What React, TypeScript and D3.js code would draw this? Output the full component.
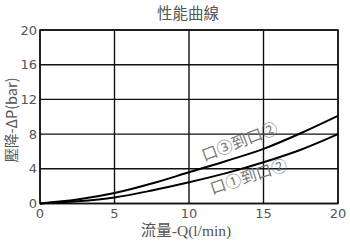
import React from "react";
import * as d3 from "d3";

const flow = [0, 2.5, 5, 7.5, 10, 12.5, 15, 17.5, 20];
const port3to2 = [0, 0.45, 1.2, 2.3, 3.6, 4.9, 6.3, 8.1, 10.1];
const port1to2 = [0, 0.25, 0.7, 1.5, 2.45, 3.5, 4.75, 6.2, 8.0];
const xTicks = [0, 5, 10, 15, 20];
const yTicks = [0, 4, 8, 12, 16, 20];
const title = "性能曲線";
const yTitle = "壓降-ΔP(bar)";
const xTitleA = "流量";
const xTitleB = "-Q(l/min)";
const label3 = "口③到口②";
const label1 = "口①到口②";

export default function App() {
  const W = 350, H = 246;
  const L = 40, R = 338, T = 30, B = 203.5;
  const x = d3.scaleLinear().domain([0, 20]).range([L, R]);
  const y = d3.scaleLinear().domain([0, 20]).range([B, T]);
  const line = d3
    .line<number>()
    .x((_, i) => x(flow[i]))
    .y((d) => y(d))
    .curve(d3.curveMonotoneX);
  const tickFont = "'DejaVu Sans', sans-serif";
  const cjk = "'Noto Sans CJK TC', sans-serif";
  return (
    <svg width={W} height={H} style={{ position: "absolute", left: 0, top: 0, background: "#fff" }}>
      <text x={188} y={19} textAnchor="middle" fontFamily={cjk} fontSize={15.5} fill="#555">
        {title}
      </text>
      {xTicks.map((t) => (
        <line key={"gx" + t} x1={x(t)} x2={x(t)} y1={T} y2={B} stroke="#111" strokeWidth={1.4} />
      ))}
      {yTicks.map((t) => (
        <line key={"gy" + t} x1={L} x2={R} y1={y(t)} y2={y(t)} stroke="#111" strokeWidth={1.4} />
      ))}
      <rect x={L} y={T} width={R - L} height={B - T} fill="none" stroke="#111" strokeWidth={1.5} />
      {xTicks.map((t) => (
        <text key={"tx" + t} x={x(t)} y={218} textAnchor="middle" fontFamily={tickFont} fontSize={13} fill="#555">
          {t}
        </text>
      ))}
      {yTicks.map((t) => (
        <text key={"ty" + t} x={37} y={y(t) + 4.5} textAnchor="end" fontFamily={tickFont} fontSize={13} fill="#555">
          {t}
        </text>
      ))}
      <path d={line(port3to2) || ""} fill="none" stroke="#000" strokeWidth={2} />
      <path d={line(port1to2) || ""} fill="none" stroke="#000" strokeWidth={2} />
      <text
        transform="translate(240,143) rotate(-21)"
        textAnchor="middle"
        dominantBaseline="middle"
        fontFamily={cjk}
        fontSize={16}
        fill="#777"
      >
        {label3}
      </text>
      <text
        transform="translate(249,178) rotate(-18)"
        textAnchor="middle"
        dominantBaseline="middle"
        fontFamily={cjk}
        fontSize={16}
        fill="#777"
      >
        {label1}
      </text>
      <text
        transform="translate(17,120) rotate(-90)"
        textAnchor="middle"
        fontFamily={cjk}
        fontSize={14.5}
        fill="#555"
      >
        {yTitle}
      </text>
      <text x={186} y={236} textAnchor="middle" fontSize={15.5} fill="#555">
        <tspan fontFamily={cjk}>{xTitleA}</tspan>
        <tspan fontFamily="'Liberation Serif', serif">{xTitleB}</tspan>
      </text>
    </svg>
  );
}
